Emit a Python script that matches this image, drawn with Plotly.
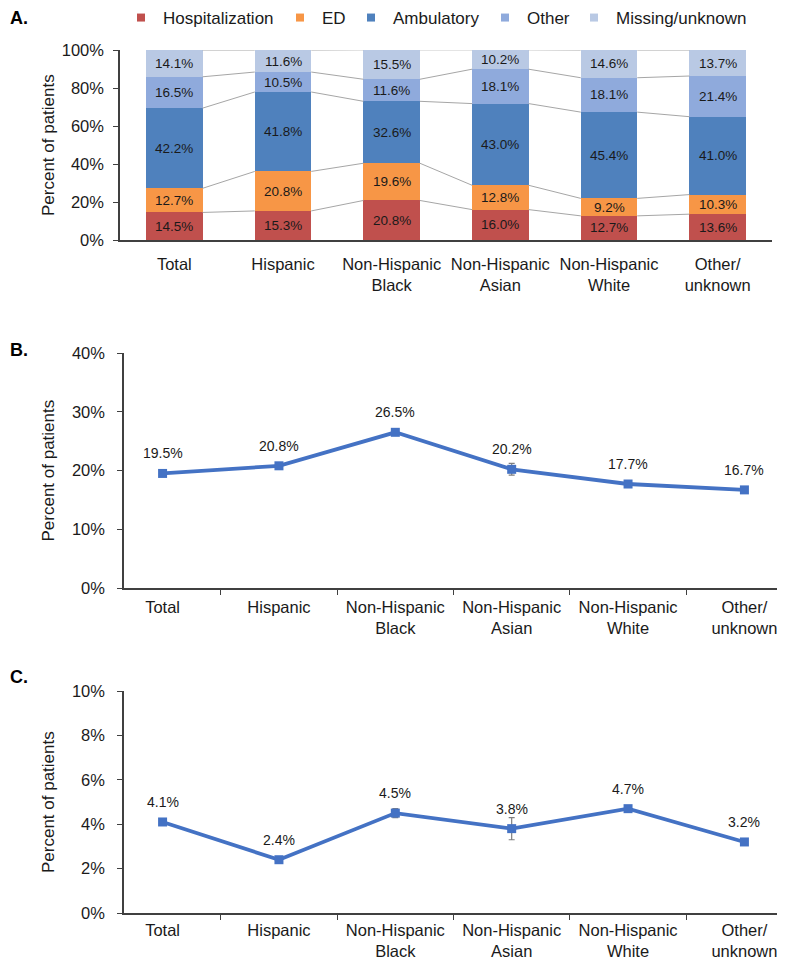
import plotly.graph_objects as go

categories = ["Total", "Hispanic", "Non-Hispanic<br>Black", "Non-Hispanic<br>Asian", "Non-Hispanic<br>White", "Other/<br>unknown"]

# Panel A (stacked shares, %)
hospitalization = [14.5, 15.3, 20.8, 16.0, 12.7, 13.6]
ed = [12.7, 20.8, 19.6, 12.8, 9.2, 10.3]
ambulatory = [42.2, 41.8, 32.6, 43.0, 45.4, 41.0]
other = [16.5, 10.5, 11.6, 18.1, 18.1, 21.4]
missing = [14.1, 11.6, 15.5, 10.2, 14.6, 13.7]

# Panel B
b_values = [19.5, 20.8, 26.5, 20.2, 17.7, 16.7]
b_err = [0.2, 0.3, 0.4, 1.0, 0.2, 0.3]
# Panel C
c_values = [4.1, 2.4, 4.5, 3.8, 4.7, 3.2]
c_err = [0.05, 0.1, 0.2, 0.5, 0.1, 0.15]

series_names = ["Hospitalization", "ED", "Ambulatory", "Other", "Missing/unknown"]
series_vals = [hospitalization, ed, ambulatory, other, missing]
series_colors = ["#C0504D", "#F79646", "#4F81BD", "#8FAADC", "#B9C9E4"]

FONT = "Liberation Sans, Arial, sans-serif"
TXT = "#1a1a1a"
BAR_W = 0.52
xs = list(range(len(categories)))
OFF = 8.0          # page body margin
W = 785.0 - OFF
H = 962.0 - OFF
axis_col = "#404040"


def px(x):
    return (x - OFF) / W


def py(y):
    return 1 - (y - OFF) / H


fig = go.Figure()

# Panel A bars
for name, vals, col in zip(series_names, series_vals, series_colors):
    fig.add_trace(go.Bar(
        x=xs, y=vals, name=name, marker=dict(color=col, line=dict(width=0)),
        width=BAR_W, xaxis="x", yaxis="y", showlegend=False, hoverinfo="skip",
    ))

# legend entries (one legend per entry to reproduce Excel spacing)
legend_sq_x = [139, 298, 369, 503, 592]
legend_ids = ["legend", "legend2", "legend3", "legend4", "legend5"]
for name, col, lid in zip(series_names, series_colors, legend_ids):
    fig.add_trace(go.Scatter(x=[None], y=[None], mode="markers", name=name,
                             marker=dict(symbol="square", size=8, color=col),
                             xaxis="x", yaxis="y", showlegend=True, legend=lid, hoverinfo="skip"))

# segment labels + connector lines
cum = [0.0] * len(categories)
levels = []
for vals in series_vals:
    for i, v in enumerate(vals):
        fig.add_annotation(x=xs[i], y=cum[i] + v / 2, xref="x", yref="y", text=f"{v:.1f}%",
                           showarrow=False, font=dict(family=FONT, size=13.5, color=TXT))
    cum = [c + v for c, v in zip(cum, vals)]
    levels.append(list(cum))
for lev in levels:
    lx, ly = [], []
    for i in range(len(categories) - 1):
        lx += [xs[i] + BAR_W / 2, xs[i + 1] - BAR_W / 2, None]
        ly += [lev[i], lev[i + 1], None]
    fig.add_trace(go.Scatter(x=lx, y=ly, mode="lines", line=dict(color="#A6A6A6", width=1),
                             xaxis="x", yaxis="y", showlegend=False, hoverinfo="skip"))

line_col = "#4472C4"
for vals, errs, xa, ya in [(b_values, b_err, "x2", "y2"), (c_values, c_err, "x3", "y3")]:
    fig.add_trace(go.Scatter(
        x=categories, y=vals, mode="lines+markers",
        line=dict(color=line_col, width=3.8),
        marker=dict(symbol="square", size=9, color=line_col),
        error_y=dict(type="data", array=errs, visible=True, color="#7F7F7F", thickness=1.2, width=3),
        xaxis=xa, yaxis=ya, showlegend=False, hoverinfo="skip",
    ))
    for c, v in zip(categories, vals):
        fig.add_annotation(x=c, y=v, xref=xa, yref=ya, text=f"{v:.1f}%", showarrow=False,
                           yshift=20, font=dict(family=FONT, size=14, color=TXT))

tickf = dict(family=FONT, size=16.5, color=TXT)


def yax(top, bot, rng, vals, anchor, standoff):
    return dict(domain=[py(bot), py(top)], range=rng, tickvals=vals,
                ticktext=[f"{v}%" for v in vals],
                showline=True, linecolor=axis_col, linewidth=1.5, ticks="outside", ticklen=5,
                tickcolor=axis_col, showgrid=False, zeroline=False, anchor=anchor,
                tickfont=tickf, ticklabelstandoff=standoff, fixedrange=True)


def xcat(anchor, standoff):
    return dict(domain=[px(124), px(783)], type="category", tickson="boundaries", ticks="outside",
                ticklen=5, tickcolor=axis_col, showline=True, linecolor=axis_col, linewidth=1.5,
                showgrid=False, zeroline=False, anchor=anchor, tickfont=tickf,
                ticklabelstandoff=standoff, fixedrange=True)


def leg(sq):
    return dict(orientation="h", x=px(sq - 20), y=py(18), xanchor="left", yanchor="middle",
                font=dict(family=FONT, size=17, color=TXT), itemwidth=34,
                itemsizing="trace", bgcolor="rgba(0,0,0,0)")


layout_kw = dict(
    width=int(W), height=int(H),
    margin=dict(l=0, r=0, t=0, b=0, autoexpand=False),
    paper_bgcolor="white", plot_bgcolor="white",
    barmode="stack", bargap=0,
    font=dict(family=FONT, color=TXT),
    xaxis=dict(domain=[px(120), px(772)], range=[-0.5, 5.5], tickvals=xs, ticktext=categories,
               showline=True, linecolor=axis_col, linewidth=1.5, ticks="", showgrid=False,
               zeroline=False, tickfont=tickf, ticklabelstandoff=8, anchor="y", fixedrange=True),
    yaxis=yax(50, 240, [0, 100], [0, 20, 40, 60, 80, 100], "x", 6),
    xaxis2=xcat("y2", 3),
    yaxis2=yax(353, 588, [0, 40], [0, 10, 20, 30, 40], "x2", 9),
    xaxis3=xcat("y3", 1),
    yaxis3=yax(691, 913, [0, 10], [0, 2, 4, 6, 8, 10], "x3", 9),
)
for lid, sq in zip(legend_ids, legend_sq_x):
    layout_kw[lid] = leg(sq)
fig.update_layout(**layout_kw)

# y-axis titles
for ymid in [(50 + 240) / 2, (353 + 588) / 2, (691 + 913) / 2]:
    fig.add_annotation(x=px(48), y=py(ymid), xref="paper", yref="paper", text="Percent of patients",
                       textangle=-90, showarrow=False, xanchor="center", yanchor="middle",
                       font=dict(family=FONT, size=17, color=TXT))

for lab, ypos in [("A.", 18), ("B.", 350), ("C.", 677)]:
    fig.add_annotation(x=px(OFF), y=py(ypos), xref="paper", yref="paper", text=f"<b>{lab}</b>",
                       showarrow=False, xanchor="left", yanchor="middle",
                       font=dict(family=FONT, size=18, color="#000000"))

fig.write_html("out.html")
